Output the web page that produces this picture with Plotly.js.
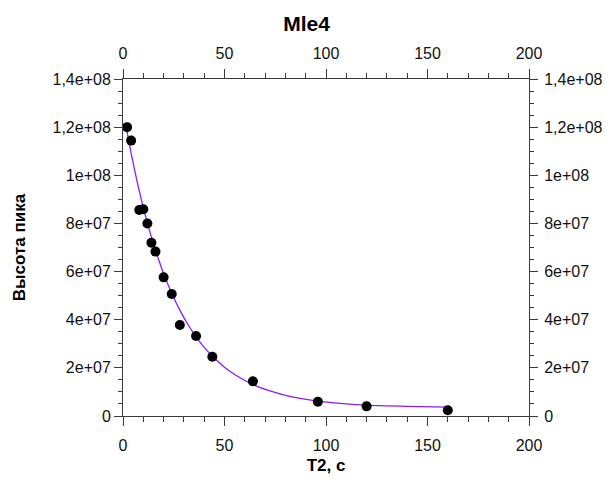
<!DOCTYPE html>
<html>
<head>
<meta charset="utf-8">
<script src="https://cdn.plot.ly/plotly-3.0.1.min.js"></script>
<style>html,body{margin:0;padding:0;background:#fff;}#chart{width:613px;height:484px;}</style>
</head>
<body>
<div id="chart"></div>
<script>
// Measured points
var t2 = [2, 4, 8, 10, 12, 14, 16, 20, 24, 28, 36, 44, 64, 96, 120, 160];
var peakHeight = [1.20e8, 1.144e8, 0.856e8, 0.859e8, 0.80e8, 0.72e8, 0.683e8, 0.576e8, 0.507e8, 0.378e8, 0.332e8, 0.246e8, 0.144e8, 0.059e8, 0.040e8, 0.024e8];
// Fitted curve
var fitX = [2, 4, 6, 8, 10, 12, 14, 16, 18, 20, 24, 28, 32, 36, 40, 44, 50, 56, 64, 72, 80, 88, 96, 110, 120, 140, 160];
var fitY = [1.180e8, 1.092e8, 1.011e8, 0.935e8, 0.866e8, 0.802e8, 0.743e8, 0.689e8, 0.639e8, 0.592e8, 0.510e8, 0.440e8, 0.380e8, 0.329e8, 0.285e8, 0.249e8, 0.203e8, 0.167e8, 0.131e8, 0.105e8, 0.086e8, 0.072e8, 0.062e8, 0.050e8, 0.045e8, 0.040e8, 0.037e8];
// Tick labels
var xTickVals = [0, 50, 100, 150, 200];
var xTickText = ['0', '50', '100', '150', '200'];
var yTickVals = [0, 2e7, 4e7, 6e7, 8e7, 1e8, 1.2e8, 1.4e8];
var yTickText = ['0', '2e+07', '4e+07', '6e+07', '8e+07', '1e+08', '1,2e+08', '1,4e+08'];

var FONT = 'Liberation Sans, Arial, sans-serif';
var axisColor = '#3a3a3a';

function xAxis(extra) {
  var a = {
    range: [0, 200], tickmode: 'array', tickvals: xTickVals, ticktext: xTickText,
    showgrid: false, zeroline: false, showline: true, linecolor: axisColor, linewidth: 1,
    ticks: 'outside', ticklen: 9, tickcolor: axisColor, tickwidth: 1,
    minor: {tickmode: 'linear', tick0: 0, dtick: 10, ticks: 'outside', ticklen: 5, tickcolor: axisColor, showgrid: false},
    tickfont: {family: FONT, size: 16, color: '#111'}
  };
  for (var k in extra) a[k] = extra[k];
  return a;
}
function yAxis(extra) {
  var a = {
    range: [0, 1.4e8], tickmode: 'array', tickvals: yTickVals, ticktext: yTickText,
    showgrid: false, zeroline: false, showline: true, linecolor: axisColor, linewidth: 1,
    ticks: 'outside', ticklen: 8, tickcolor: axisColor, tickwidth: 1,
    minor: {tickmode: 'linear', tick0: 0, dtick: 5e6, ticks: 'outside', ticklen: 4, tickcolor: axisColor, showgrid: false},
    tickfont: {family: FONT, size: 16, color: '#111'}
  };
  for (var k in extra) a[k] = extra[k];
  return a;
}

var traces = [
  {x: fitX, y: fitY, type: 'scatter', mode: 'lines', line: {color: '#8c1cff', width: 1.3, shape: 'spline'}, hoverinfo: 'skip', showlegend: false},
  {x: t2, y: peakHeight, type: 'scatter', mode: 'markers', marker: {color: '#000', size: 10}, showlegend: false},
  {x: [], y: [], xaxis: 'x2', yaxis: 'y2', type: 'scatter', mode: 'markers', showlegend: false}
];

var layout = {
  width: 613, height: 484,
  margin: {l: 123, r: 84, t: 79, b: 68},
  paper_bgcolor: '#fff', plot_bgcolor: '#fff',
  title: {text: '<b>Mle4</b>', font: {family: FONT, size: 21, color: '#000'}, x: 0.5, xref: 'container', y: 0.952, yref: 'container', yanchor: 'middle'},
  xaxis: xAxis({ticklabelstandoff: 6, title: {text: '<b>T2, c</b>', font: {family: FONT, size: 17, color: '#000'}, standoff: 5}}),
  yaxis: yAxis({title: {text: '<b>Высота пика</b>', font: {family: FONT, size: 17, color: '#000'}, standoff: 22}}),
  xaxis2: xAxis({overlaying: 'x', side: 'top', anchor: 'y2', ticklabelstandoff: 4}),
  yaxis2: yAxis({overlaying: 'y', side: 'right', anchor: 'x2', ticklabelstandoff: 3}),
  showlegend: false
};

Plotly.newPlot('chart', traces, layout, {staticPlot: true, displayModeBar: false});
</script>
</body>
</html>
